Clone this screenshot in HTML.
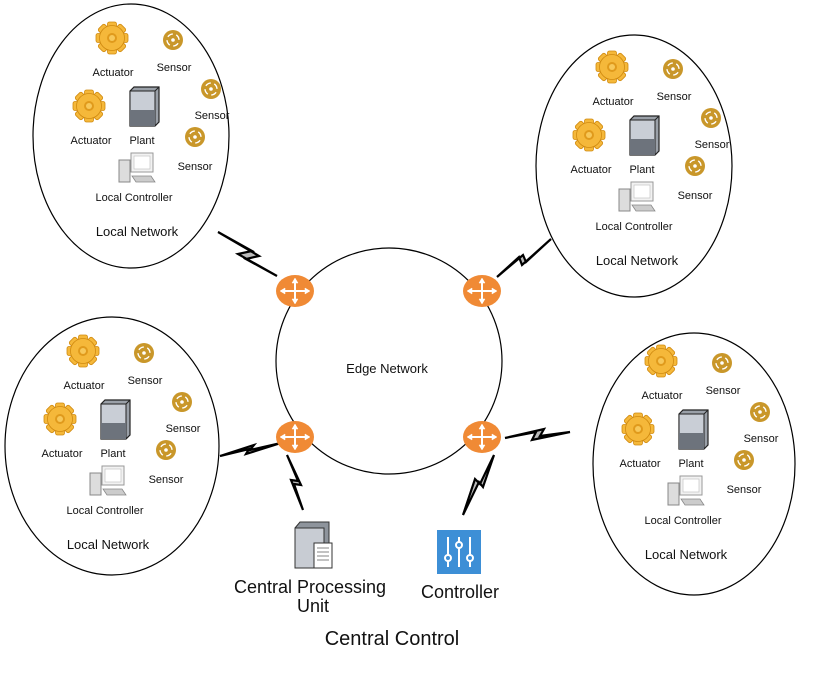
<!DOCTYPE html>
<html><head><meta charset="utf-8"><style>
html,body{margin:0;padding:0;background:#fff}
svg{display:block}
text{font-family:"Liberation Sans",sans-serif;fill:#111}
</style></head><body>
<svg width="831" height="686" viewBox="0 0 831 686" xmlns="http://www.w3.org/2000/svg">
<defs>
<g id="gear">
  <g fill="#f5b83a" stroke="#d08a10" stroke-width="0.8">
    <rect x="-4.5" y="-16" width="9" height="32" rx="2"/>
    <rect x="-4.5" y="-16" width="9" height="32" rx="2" transform="rotate(45)"/>
    <rect x="-4.5" y="-16" width="9" height="32" rx="2" transform="rotate(90)"/>
    <rect x="-4.5" y="-16" width="9" height="32" rx="2" transform="rotate(135)"/>
    <circle r="12.5"/>
  </g>
  <circle r="5" fill="#e09a1c"/>
  <circle r="3" fill="#f7c85a"/>
</g>
<g id="sensor">
  <circle r="10" fill="#c9972a"/>
  <circle r="6" fill="none" stroke="#fff" stroke-width="1.3" stroke-dasharray="6 3.4" stroke-dashoffset="1.5" transform="rotate(45)"/>
  <circle r="1.8" fill="#fff"/>
</g>
<g id="plant">
  <path d="M-14,-15 L-10,-19 L15,-19 L15,16 L11,20 L-14,20 Z" fill="#9aa0a8" stroke="#222" stroke-width="1.2"/>
  <path d="M-14,-15 L11,-15 L11,20 L-14,20 Z" fill="#c9ced6" stroke="#222" stroke-width="1"/>
  <rect x="-14" y="4" width="25" height="16" fill="#6d737c"/>
  <path d="M11,-15 L15,-19" stroke="#222"/>
</g>
<g id="pc">
  <rect x="-4" y="-15" width="22" height="19" fill="#f2f2f2" stroke="#999"/>
  <rect x="-1" y="-12" width="16" height="13" fill="#fff" stroke="#bbb" stroke-width="0.6"/>
  <rect x="-16" y="-8" width="11" height="22" fill="#ddd" stroke="#888"/>
  <path d="M-3,8 L16,8 L20,14 L1,14 Z" fill="#ccc" stroke="#888" stroke-width="0.8"/>
</g>
<g id="local">
  <use href="#gear" x="112" y="38"/>
  <text x="113" y="76" font-size="11" text-anchor="middle">Actuator</text>
  <use href="#sensor" x="173" y="40"/>
  <text x="174" y="71" font-size="11" text-anchor="middle">Sensor</text>
  <use href="#sensor" x="211" y="89"/>
  <text x="212" y="119" font-size="11" text-anchor="middle">Sensor</text>
  <use href="#gear" x="89" y="106"/>
  <text x="91" y="144" font-size="11" text-anchor="middle">Actuator</text>
  <use href="#plant" x="144" y="106"/>
  <text x="142" y="144" font-size="11" text-anchor="middle">Plant</text>
  <use href="#sensor" x="195" y="137"/>
  <text x="195" y="170" font-size="11" text-anchor="middle">Sensor</text>
  <use href="#pc" x="135" y="168"/>
  <text x="134" y="201" font-size="11" text-anchor="middle">Local Controller</text>
  <text x="137" y="236" font-size="13" text-anchor="middle">Local Network</text>
</g>
<g id="router">
  <ellipse rx="19" ry="16" fill="#f08a35"/>
  <g stroke="#fff" stroke-width="2" fill="#fff">
    <line x1="-12" y1="0" x2="12" y2="0"/><line x1="0" y1="-11" x2="0" y2="11"/>
    <path d="M15,0 L10,-3 L10,3Z M-15,0 L-10,-3 L-10,3Z M0,-13 L-3,-8 L3,-8Z M0,13 L-3,8 L3,8Z" stroke-width="0.5"/>
  </g>
</g>
</defs>

<ellipse cx="131" cy="136" rx="98" ry="132" fill="none" stroke="#000" stroke-width="1.2"/>
<ellipse cx="634" cy="166" rx="98" ry="131" fill="none" stroke="#000" stroke-width="1.2"/>
<ellipse cx="112" cy="446" rx="107" ry="129" fill="none" stroke="#000" stroke-width="1.2"/>
<ellipse cx="694" cy="464" rx="101" ry="131" fill="none" stroke="#000" stroke-width="1.2"/>

<use href="#local"/>
<use href="#local" x="500" y="29"/>
<use href="#local" x="-29" y="313"/>
<use href="#local" x="549" y="323"/>

<circle cx="389" cy="361" r="113" fill="none" stroke="#000" stroke-width="1.2"/>
<text x="387" y="373" font-size="13" text-anchor="middle">Edge Network</text>

<g fill="#bbb" stroke="#000" stroke-width="2.2" stroke-linejoin="miter">
  <path d="M218,232 L252,251 L238,254 L277,276 L246,259 L259,256 Z"/>
  <path d="M220,456 L254,445 L250,450 L281,443 L246,454 L249,449 Z"/>
  <path d="M287,455 L298,481 L291,480 L303,510 L294,484 L301,485 Z"/>
  <path d="M551,239 L526,262 L523,255 L497,277 L519,257 L522,265 Z"/>
  <path d="M505,438 L536,432 L532,440 L570,432 L540,436 L544,429 Z"/>
  <path d="M494,455 L483,487 L479,482 L463,515 L475,479 L480,484 Z"/>
</g>

<use href="#router" x="295" y="291"/>
<use href="#router" x="482" y="291"/>
<use href="#router" x="295" y="437"/>
<use href="#router" x="482" y="437"/>

<g>
  <path d="M295,528 L300,522 L329,522 L329,562 L324,568 L295,568 Z" fill="#8e949c" stroke="#333"/>
  <rect x="295" y="528" width="29" height="40" fill="#c8ccd3" stroke="#333"/>
  <rect x="314" y="543" width="18" height="25" fill="#fff" stroke="#333"/>
  <g stroke="#666" stroke-width="0.8"><line x1="317" y1="548" x2="329" y2="548"/><line x1="317" y1="552" x2="329" y2="552"/><line x1="317" y1="556" x2="329" y2="556"/><line x1="317" y1="560" x2="329" y2="560"/></g>
</g>
<rect x="437" y="530" width="44" height="44" fill="#3d8fd6"/>
<g stroke="#fff" stroke-width="2" fill="#3d8fd6">
  <line x1="448" y1="537" x2="448" y2="567"/><line x1="459" y1="537" x2="459" y2="567"/><line x1="470" y1="537" x2="470" y2="567"/>
  <circle cx="448" cy="558" r="3"/><circle cx="459" cy="545" r="3"/><circle cx="470" cy="558" r="3"/>
</g>

<text x="310" y="593" font-size="18" text-anchor="middle">Central Processing</text>
<text x="313" y="612" font-size="18" text-anchor="middle">Unit</text>
<text x="460" y="598" font-size="18" text-anchor="middle">Controller</text>
<text x="392" y="645" font-size="20" text-anchor="middle">Central Control</text>
</svg>
</body></html>
